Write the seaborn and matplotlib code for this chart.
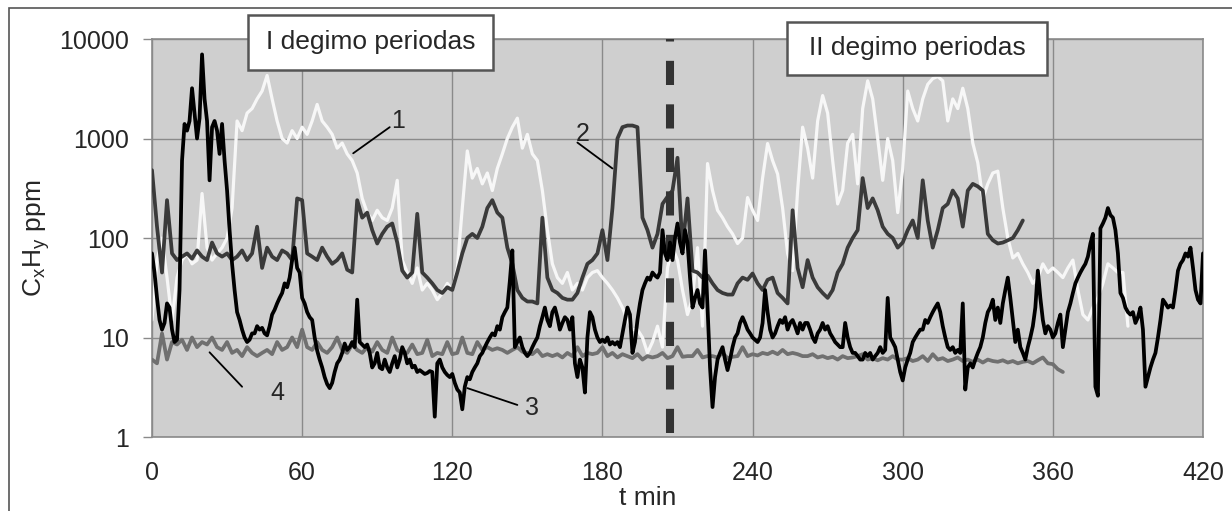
import numpy as np
import matplotlib
matplotlib.use('Agg')
import matplotlib.pyplot as plt
from matplotlib.patches import Rectangle
from matplotlib.ticker import NullLocator
import seaborn as sns

# --- Data ---
# Series 1 (white), sampled every 2 min from t=0
s1_values = [
    15, 60, 100, 40, 15, 40, 60, 70, 55, 60,
    280, 80, 60, 70, 80, 100, 200, 1500, 1200, 1800,
    2000, 2500, 3000, 4300, 2500, 1500, 1000, 900, 1200, 1000,
    1300, 1100, 1500, 2200, 1500, 1300, 1100, 800, 900, 700,
    600, 450, 250, 180, 150, 190, 160, 150, 200, 380,
    60, 45, 35, 50, 30, 35, 30, 24, 28, 35,
    30, 50, 200, 750, 400, 500, 350, 450, 300, 500,
    700, 1000, 1300, 1600, 800, 1100, 700, 600, 300, 120,
    55, 40, 35, 45, 30, 35, 30, 40, 45, 47,
    40, 35, 30, 25, 20, 15, 12, 12, 10, 7,
    9, 13, 8, 50, 80, 60, 30, 17, 25, 80,
    13, 560, 300, 190, 160, 130, 110, 88, 100, 255,
    190, 150, 400, 890, 600, 440, 200, 70, 47, 300,
    1300, 800, 400, 1500, 2700, 1800, 600, 220, 300, 900,
    1100, 350, 2000, 3800, 2500, 1000, 380, 1000, 600, 180,
    500, 3000, 2000, 1500, 2500, 3500, 4000, 4200, 3800, 1500,
    2500, 2000, 3200, 2000, 900, 570, 250, 350, 450, 470,
    200, 100, 63, 70, 55, 45, 35, 40, 55, 45,
    50, 45, 40, 50, 60, 30, 17, 15, 20, 25,
    35, 55, 50, 45, 45, 13,
]

# Series 2 (dark grey), every 2 min from t=0
s2_values = [
    480, 130, 45, 240, 70, 60, 65, 70, 62, 75,
    65, 60, 90, 70, 65, 70, 60, 65, 75, 60,
    70, 130, 50, 80, 65, 60, 75, 70, 60, 250,
    240, 70, 65, 60, 80, 65, 55, 60, 70, 48,
    45, 240, 160, 180, 120, 88, 110, 130, 140, 90,
    47, 40, 45, 175, 45, 40, 35, 30, 28, 32,
    30, 45, 70, 100, 110, 100, 130, 200, 240, 180,
    160, 80, 55, 30, 25, 23, 23, 22, 160, 40,
    30, 28, 25, 24, 24, 28, 40, 55, 60, 70,
    120, 60, 200, 1000, 1300, 1350, 1350, 1300, 160, 120,
    80, 110, 220, 260, 300, 640, 80, 250, 47, 45,
    40, 42, 35, 30, 28, 27, 27, 35, 40, 38,
    44, 35, 30, 38, 40, 28, 25, 22, 190, 50,
    32, 60, 40, 32, 28, 25, 30, 45, 55, 80,
    100, 120, 400, 200, 250, 190, 130, 110, 100, 80,
    90, 120, 150, 100, 380, 150, 80, 120, 200, 220,
    300, 250, 130, 300, 350, 330, 300, 110, 95, 88,
    90, 95, 100, 120, 150,
]

# Series 3 (black), every 1 min from t=0
s3_values = [
    70, 45, 25, 15, 12, 14, 22, 20, 12, 9,
    9.5, 30, 600, 1400, 1200, 1500, 3200, 1800, 1000, 1600,
    7000, 2500, 1500, 380, 1300, 1500, 1200, 700, 1400, 600,
    300, 120, 55, 30, 18, 15, 12, 10, 9, 9.5,
    11, 11, 13, 12, 12.5, 11, 10.5, 13, 17, 19,
    22, 25, 28, 35, 32, 40, 60, 80, 50, 45,
    25, 22, 18, 16, 15, 10, 7.4, 6, 5, 4,
    3.4, 3.1, 3.5, 4.5, 5.5, 6, 7, 8.7, 7.5, 8,
    9, 8, 24, 9, 8.5, 8, 8.5, 7, 5, 5.5,
    7, 5, 4.8, 6, 5, 4.5, 5.5, 6.5, 5, 6,
    8, 7, 5.5, 6, 5, 5.2, 4.5, 4.7, 4.5, 4.3,
    4.4, 4.6, 4.5, 1.6, 5.5, 6, 5, 4.5, 4.2, 4,
    4.3, 3.5, 3, 2.8, 1.9, 3.2, 4, 3.8, 4.5, 5,
    5.5, 6.5, 7, 8, 9, 10, 11, 10.5, 13, 12,
    16, 18, 20, 37, 75, 8, 9, 10, 8, 7,
    6.5, 7, 8, 9, 10, 13, 16, 20, 15, 13,
    18, 20, 16, 12, 14, 16, 15, 12, 16, 5.5,
    4, 6, 5, 2.8, 10, 18, 16, 12, 10, 9,
    9.5, 9, 10, 8.5, 9, 8.5, 9, 8, 11, 15,
    20, 17, 7, 9, 15, 22, 30, 35, 40, 38,
    45, 42, 40, 45, 120, 70, 60, 90, 60, 100,
    140, 90, 70, 120, 90, 40, 20, 25, 30, 22,
    20, 75, 20, 5, 2.0, 4, 6, 7, 8, 6,
    4.7, 6, 8, 10, 11, 14, 16, 14, 12, 11,
    10, 9.5, 9, 10, 14, 30, 18, 12, 10, 11,
    13, 15, 14, 16, 12, 14, 15, 13, 11, 14,
    12, 14, 14, 12, 10, 9, 11, 12, 14, 12,
    13, 11, 10, 9, 8.5, 8, 8, 14, 10, 8,
    7, 7, 6.5, 6, 6, 7, 6.5, 7, 6, 6.5,
    7, 8, 7, 7.5, 25, 10, 9, 8, 6, 4.5,
    3.7, 5, 6, 7, 9, 10, 11, 12, 12, 15,
    14, 16, 18, 20, 22, 18, 13, 10, 8, 7.5,
    8, 7, 7.5, 7, 22, 3, 5, 5.5, 5, 6,
    7, 8, 10, 14, 18, 20, 24, 15, 20, 14,
    22, 30, 40, 25, 15, 9, 12, 8, 7, 6,
    8, 10, 13, 20, 47, 25, 15, 11, 13, 12,
    10, 11, 14, 17, 8, 12, 18, 22, 28, 35,
    40, 45, 50, 55, 65, 88, 110, 3.2, 2.6, 125,
    140, 160, 200, 170, 160, 120, 70, 28, 25, 20,
    18, 17, 18, 14, 16, 20, 12, 3.2, 4, 5,
    6, 7, 10, 15, 24, 22, 20, 21, 20, 30,
    47, 55, 60, 70, 65, 80, 50, 30, 24, 22,
    70,
]

# Series 4 (grey), every 2 min from t=0
s4_values = [
    6, 5.5, 11, 6, 9, 8.5, 9.5, 7.5, 10, 8, 9,
    8.5, 10, 8, 7.5, 9, 7, 7.5, 6.5, 8, 7, 6.5, 7, 7.5, 6.8, 9, 7.5, 8, 10, 8, 12,
    8, 7.5, 9, 7.5, 7, 8, 10, 7.5, 7, 8.5, 7.5, 7, 8, 7.2, 9, 7.5, 7, 10, 7.5, 7,
    7, 8.5, 6.8, 7, 9.5, 6.5, 7, 6.8, 9, 6.8, 7, 10, 7, 6.8, 9, 7.5, 8, 7.5, 7.8, 7.5,
    7, 7.5, 8, 7.2, 7, 6.8, 7.5, 6.5, 6.8, 6.5, 6.8, 6.3, 7, 6.5, 8, 6.5, 7, 6.8, 7, 8,
    6.5, 7, 6.3, 6.8, 6.5, 6.2, 6.8, 6, 6.5, 6.3, 6.5, 7, 6.2, 6.5, 8, 6.4, 6.5, 6.5, 7.5, 6.3,
    6.5, 6.5, 6.3, 7, 6.2, 6.4, 6.5, 8, 6.5, 6.8, 6.6, 7, 6.8, 7.2, 6.8, 7.5, 6.8, 7, 6.8, 6.5,
    6.5, 6.8, 6.3, 6.5, 6.2, 6.4, 6, 6.5, 6.2, 6.3, 6.5, 6.8, 6, 6.2, 5.9, 6.2, 6, 6.5, 6, 6,
    6.2, 5.8, 6, 6.5, 5.8, 6.8, 6, 6.2, 5.8, 6, 6.3, 5.8, 6, 5.7, 6, 5.6, 6, 5.8, 5.7, 5.9,
    5.6, 5.8, 5.5, 5.7, 5.8, 5.5, 5.9, 6.3, 5.5, 5.4, 4.8, 4.5,
]

s1_t = np.arange(len(s1_values)) * 2
s2_t = np.arange(len(s2_values)) * 2
s3_t = np.arange(len(s3_values))
s4_t = np.arange(len(s4_values)) * 2

x_ticks = [0, 60, 120, 180, 240, 300, 360, 420]
y_ticks = [1, 10, 100, 1000, 10000]
y_tick_labels = ['1', '10', '100', '1000', '10000']
period_split = 207
period_labels = ['I degimo periodas', 'II degimo periodas']

# --- Style ---
sns.set_style("whitegrid", {"axes.facecolor": "#cfcfcf", "grid.color": "#8a8a8a",
                            "axes.edgecolor": "#8a8a8a"})
plt.rcParams['font.family'] = ['Liberation Sans', 'DejaVu Sans']

W, H = 1232, 511
fig = plt.figure(figsize=(W / 100, H / 100), dpi=100)
ax = fig.add_axes([152 / W, 1 - 437 / H, (1203 - 152) / W, (437 - 39) / H])

ax.set_yscale('log')
sns.lineplot(x=s1_t, y=s1_values, ax=ax, color='#f7f7f7', linewidth=2.3,
             estimator=None, sort=False, zorder=2)
sns.lineplot(x=s2_t, y=s2_values, ax=ax, color='#3a3a3a', linewidth=2.7,
             estimator=None, sort=False, zorder=3)
ax.axvline(period_split, ymin=0.01, ymax=1, color='#333333', linewidth=5.8,
           dashes=(3, 2.4), zorder=3.5)
sns.lineplot(x=s4_t, y=s4_values, ax=ax, color='#707070', linewidth=2.7,
             estimator=None, sort=False, zorder=4)
sns.lineplot(x=s3_t, y=s3_values, ax=ax, color='#000000', linewidth=2.7,
             estimator=None, sort=False, zorder=5)

ax.set_xlim(0, 420)
ax.set_ylim(1, 10000)
ax.set_xticks(x_ticks)
ax.set_yticks(y_ticks)
ax.set_yticklabels(y_tick_labels)
ax.yaxis.set_minor_locator(NullLocator())
ax.grid(True, color='#8a8a8a', linewidth=1.0)
for sp in ax.spines.values():
    sp.set_visible(True)
    sp.set_color('#8a8a8a')
    sp.set_linewidth(1.2)
ax.tick_params(axis='y', left=True, length=6.5, width=1.0, color='#8a8a8a',
               pad=10, labelsize=18)
ax.tick_params(axis='x', length=0, pad=17, labelsize=18)

ax.set_xlabel('t min', fontsize=19)
ax.xaxis.set_label_coords(0.472, -0.122)
ax.set_ylabel(r'$\mathregular{C_xH_y}$ ppm', fontsize=19)
ax.yaxis.set_label_coords(-0.095, 0.5)

# curve number call-outs
callouts = [('1', (80.4, 710), (95, 1300), (98.5, 1500)),
            ('2', (184, 500), (170, 910), (172, 1120)),
            ('3', (126, 3.1), (146, 2.1), (152, 1.95)),
            ('4', (23, 7.1), (36, 3.2), (50, 2.76))]
for num, p0, p1, ptxt in callouts:
    ax.plot([p0[0], p1[0]], [p0[1], p1[1]], color='black', linewidth=1.3, zorder=6)
    ax.text(ptxt[0], ptxt[1], num, fontsize=18, ha='center', va='center', zorder=6)

# period boxes (figure pixel layout)
boxes = [(248, 15, 493, 70), (787, 22, 1047, 75)]
for (x0, y0, x1, y1), label in zip(boxes, period_labels):
    fig.add_artist(Rectangle((x0 / W, 1 - y1 / H), (x1 - x0) / W, (y1 - y0) / H,
                             transform=fig.transFigure, facecolor='white',
                             edgecolor='#555555', linewidth=1.8, zorder=5))
    fig.text((x0 + x1) / 2 / W, 1 - (y0 + y1) / 2 / H, label, fontsize=19,
             ha='center', va='center', zorder=6)

# outer frame (only top/left visible in the reference)
fig.add_artist(Rectangle((9 / W, -0.1), 1.2, 1 - 8 / H + 0.1, transform=fig.transFigure,
                         fill=False, edgecolor='#555555', linewidth=1.2, zorder=0))

fig.savefig('out.png', dpi=100)
